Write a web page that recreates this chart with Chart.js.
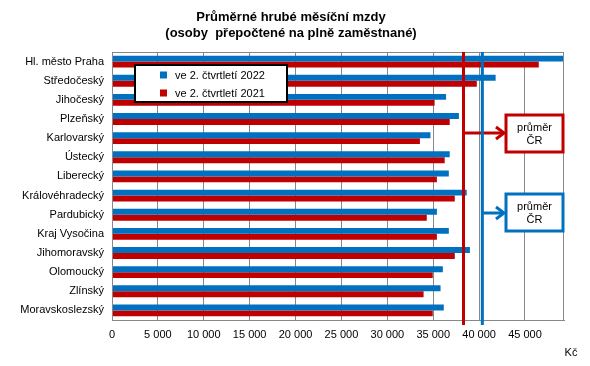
<!DOCTYPE html>
<html>
<head>
<meta charset="utf-8">
<script src="https://cdn.jsdelivr.net/npm/chart.js@4"></script>
<style>
  body { margin: 0; background: #fff; }
  #wrap { width: 590px; height: 366px; }
</style>
</head>
<body>
<div id="wrap"><canvas id="chart" width="590" height="366"></canvas></div>
<script>
const regions = ['Hl. město Praha', 'Středočeský', 'Jihočeský', 'Plzeňský', 'Karlovarský', 'Ústecký', 'Liberecký',
    'Královéhradecký', 'Pardubický', 'Kraj Vysočina', 'Jihomoravský', 'Olomoucký', 'Zlínský', 'Moravskoslezský'];
const wages2022 = [51000, 41800, 36400, 37800, 34700, 36800, 36700, 38650, 35400, 36700, 39000, 36050, 35800, 36150];
const wages2021 = [46500, 39750, 35150, 36800, 33550, 36250, 35400, 37350, 34300, 35400, 37350, 34950, 33950, 34950];
const seriesNames = ['ve 2. čtvrtletí 2022', 've 2. čtvrtletí 2021'];
const avgCR2022 = 40353;
const avgCR2021 = 38300;
const xTicks = [0, 5000, 10000, 15000, 20000, 25000, 30000, 35000, 40000, 45000];
const titleLines = ['Průměrné hrubé měsíční mzdy', '(osoby  přepočtené na plně zaměstnané)'];

const BLUE = '#0070C0';
const RED = '#C00000';
const FONT = '"Liberation Sans", Arial, sans-serif';

function fmt(v) {
    return String(v).replace(/\B(?=(\d{3})+(?!\d))/g, ' ');
}

// title, legend, average lines and the "průměr ČR" boxes
const extras = {
    id: 'extras',
    afterDraw(chart) {
        const ctx = chart.ctx;
        const area = chart.chartArea;
        const x = chart.scales.x;

        // plot border
        ctx.save();
        ctx.strokeStyle = '#888';
        ctx.lineWidth = 1;
        ctx.strokeRect(area.left + 0.5, area.top + 0.5, area.right - area.left - 1, area.bottom - area.top);

        // title
        ctx.fillStyle = '#000';
        ctx.font = 'bold 13px ' + FONT;
        ctx.textAlign = 'center';
        ctx.textBaseline = 'middle';
        ctx.fillText(titleLines[0], 291, 17);
        ctx.fillText(titleLines[1], 291, 33);

        // average lines
        const lines = [
            { v: avgCR2021, color: RED, boxTop: 115, arrowY: 133 },
            { v: avgCR2022, color: BLUE, boxTop: 194, arrowY: 213 }
        ];
        lines.forEach(l => {
            const px = x.getPixelForValue(l.v);
            ctx.strokeStyle = l.color;
            ctx.lineWidth = 3;
            ctx.beginPath();
            ctx.moveTo(px, area.top);
            ctx.lineTo(px, area.bottom + 5);
            ctx.stroke();

            // arrow
            const boxLeft = 506;
            ctx.beginPath();
            ctx.moveTo(px, l.arrowY);
            ctx.lineTo(boxLeft - 2, l.arrowY);
            ctx.stroke();
            ctx.beginPath();
            ctx.moveTo(boxLeft - 10, l.arrowY - 6);
            ctx.lineTo(boxLeft - 2, l.arrowY);
            ctx.lineTo(boxLeft - 10, l.arrowY + 6);
            ctx.stroke();

            // box
            ctx.fillStyle = '#fff';
            ctx.fillRect(boxLeft, l.boxTop, 57, 37);
            ctx.strokeRect(boxLeft, l.boxTop, 57, 37);
            ctx.fillStyle = '#000';
            ctx.font = '11px ' + FONT;
            ctx.fillText('průměr', boxLeft + 28.5, l.boxTop + 13);
            ctx.fillText('ČR', boxLeft + 28.5, l.boxTop + 26);
        });

        // legend
        ctx.fillStyle = '#fff';
        ctx.fillRect(135, 65, 152, 37);
        ctx.strokeStyle = '#000';
        ctx.lineWidth = 2;
        ctx.strokeRect(135, 65, 152, 37);
        ctx.font = '11px ' + FONT;
        ctx.textAlign = 'left';
        chart.data.datasets.forEach((ds, i) => {
            const y = 75 + i * 18;
            ctx.fillStyle = ds.backgroundColor;
            ctx.fillRect(160, y - 3.5, 7, 7);
            ctx.fillStyle = '#000';
            ctx.fillText(ds.label, 175, y + 0.5);
        });

        // unit
        ctx.textAlign = 'center';
        ctx.fillText('Kč', 571, 353);
        ctx.restore();
    }
};

new Chart(document.getElementById('chart'), {
    type: 'bar',
    data: {
        labels: regions,
        datasets: [
            { label: seriesNames[0], data: wages2022, backgroundColor: BLUE },
            { label: seriesNames[1], data: wages2021, backgroundColor: RED }
        ]
    },
    options: {
        indexAxis: 'y',
        responsive: false,
        animation: false,
        layout: { padding: { top: 52, right: 26, left: 0, bottom: 0 } },
        datasets: { bar: { categoryPercentage: 0.62, barPercentage: 1.0 } },
        plugins: {
            legend: { display: false },
            title: { display: false },
            tooltip: { enabled: false }
        },
        scales: {
            x: {
                min: 0,
                max: 49250,
                afterBuildTicks(scale) {
                    scale.ticks = xTicks.map(v => ({ value: v }));
                },
                afterFit(scale) { scale.height = 46; },
                ticks: {
                    autoSkip: false,
                    color: '#000',
                    font: { family: FONT, size: 11 },
                    padding: 8,
                    maxRotation: 0,
                    callback: v => fmt(v)
                },
                grid: { color: '#888', lineWidth: 1, drawTicks: false },
                border: { color: '#888' }
            },
            y: {
                afterFit(scale) { scale.width = 112; },
                ticks: {
                    color: '#000',
                    font: { family: FONT, size: 11 },
                    padding: 8
                },
                grid: { display: false, drawTicks: false },
                border: { color: '#888' }
            }
        }
    },
    plugins: [extras]
});
</script>
</body>
</html>
